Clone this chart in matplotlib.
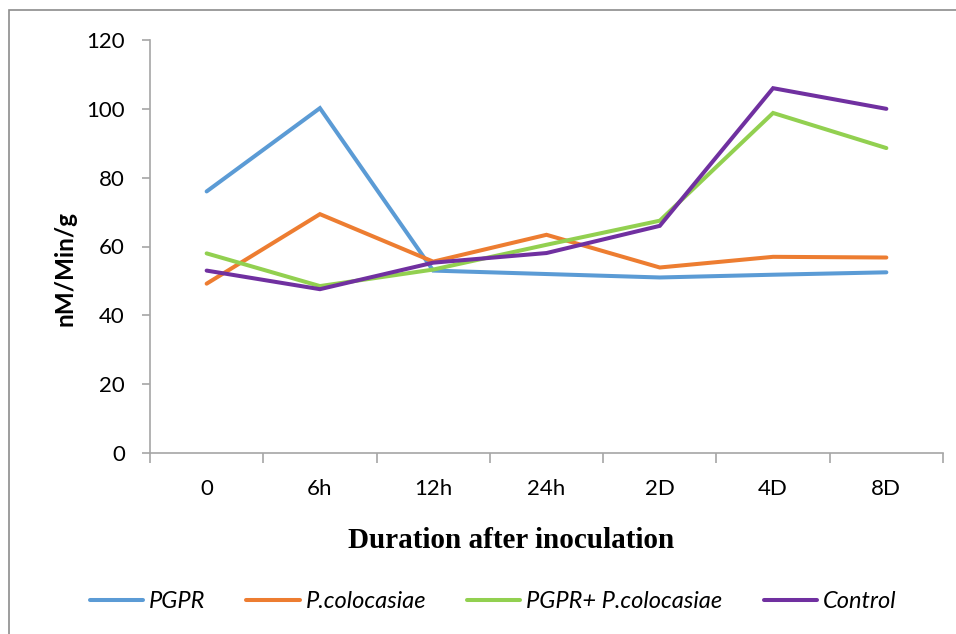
import matplotlib
matplotlib.use("Agg")
import matplotlib.pyplot as plt
from matplotlib.patches import Rectangle

# Sampling times after inoculation
durations = ["0", "6h", "12h", "24h", "2D", "4D", "8D"]

# Enzyme activity (nM/Min/g) per treatment
pgpr = [76.0, 100.2, 53.0, 52.0, 51.0, 51.8, 52.5]
p_colocasiae = [49.2, 69.4, 55.6, 63.4, 53.9, 57.0, 56.8]
pgpr_p_colocasiae = [58.0, 48.5, 53.3, 60.5, 67.5, 98.8, 88.6]
control = [53.0, 47.6, 55.3, 58.1, 66.0, 106.0, 100.0]

series_names = ["PGPR", "P.colocasiae", "PGPR+ P.colocasiae", "Control"]
series_values = [pgpr, p_colocasiae, pgpr_p_colocasiae, control]
series_colors = ["#5B9BD5", "#ED7D31", "#92D050", "#7030A0"]

y_ticks = [0, 20, 40, 60, 80, 100, 120]

W, H = 956, 634
fig = plt.figure(figsize=(W / 100, H / 100), dpi=100)
ax = fig.add_axes([150 / W, 1 - 453 / H, (943 - 150) / W, (453 - 40) / H])

x = list(range(len(durations)))
for name, vals, col in zip(series_names, series_values, series_colors):
    ax.plot(x, vals, color=col, linewidth=2.9, label=name,
            solid_capstyle="round", solid_joinstyle="miter")

ax.set_xlim(-0.5, len(durations) - 0.5)
ax.set_ylim(0, 120)
ax.set_yticks(y_ticks)
ax.set_yticklabels([str(v) for v in y_ticks], fontfamily="Lato", fontsize=16)
ax.set_xticks([i - 0.5 for i in range(len(durations) + 1)])
ax.set_xticklabels([])
ax.set_xticks(x, minor=True)
ax.set_xticklabels(durations, minor=True, fontfamily="Lato", fontsize=16)

grey = "#a6a6a6"
for s in ["top", "right"]:
    ax.spines[s].set_visible(False)
for s in ["left", "bottom"]:
    ax.spines[s].set_color(grey)
    ax.spines[s].set_linewidth(1.2)

ax.tick_params(axis="y", which="major", direction="out", length=6, width=1.2,
               color=grey, pad=12)
ax.tick_params(axis="x", which="major", direction="out", length=7, width=1.2,
               color=grey)
ax.tick_params(axis="x", which="minor", length=0, pad=19)

fig.text(65 / W, 1 - 268 / H, "nM/Min/g", rotation=90, fontfamily="Lato",
         fontweight="bold", fontsize=17.5, ha="center", va="center")
fig.text(511 / W, 1 - 540 / H, "Duration after inoculation",
         fontfamily="Liberation Serif", fontweight="bold", fontsize=21,
         ha="center", va="center")

leg = fig.legend(loc="center", bbox_to_anchor=(493 / W, 1 - 602 / H), ncol=4,
                 frameon=False, prop={"family": "Lato", "style": "italic", "size": 17},
                 handlelength=2.25, handletextpad=0.25, columnspacing=1.75)

# Outer chart frame
fig.patches.append(Rectangle((9 / W, -0.1), 1.2, 1 - 10 / H + 0.1,
                             transform=fig.transFigure, fill=False,
                             edgecolor="#8c8c8c", linewidth=1.2))

fig.savefig("out.png", dpi=100)
